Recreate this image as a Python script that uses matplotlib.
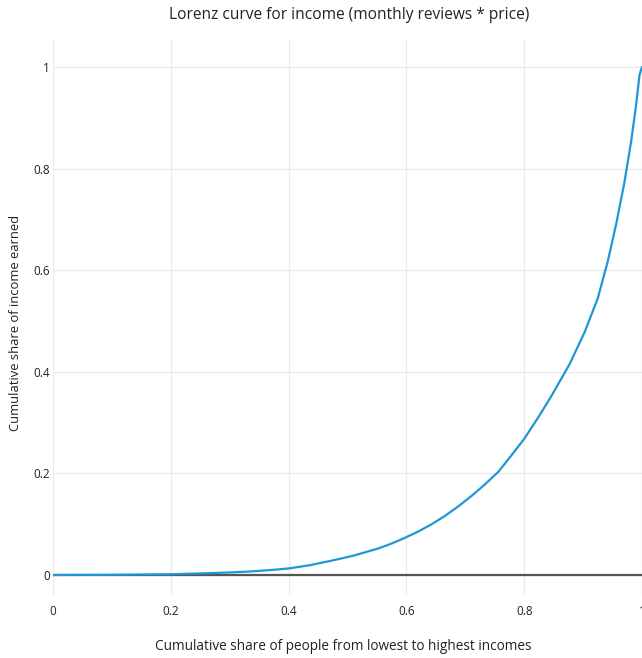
import numpy as np
import matplotlib
matplotlib.use('Agg')
import matplotlib.pyplot as plt

# Dati (curva di Lorenz)
share_people = [0.0, 0.1, 0.2, 0.249, 0.3, 0.333, 0.367, 0.401, 0.437, 0.474,
                0.51, 0.553, 0.575, 0.598, 0.62, 0.643, 0.665, 0.688, 0.711,
                0.733, 0.756, 0.7786, 0.7994, 0.8237, 0.846, 0.877, 0.9026,
                0.925, 0.942, 0.956, 0.970, 0.9815, 0.990, 0.9957, 1.0]
share_income = [0.0, 0.0004, 0.0015, 0.003, 0.005, 0.0068, 0.0095, 0.013, 0.0195,
                0.0285, 0.038, 0.0525, 0.062, 0.0735, 0.0855, 0.100, 0.116, 0.135,
                0.156, 0.178, 0.203, 0.236, 0.267, 0.310, 0.352, 0.415, 0.478,
                0.545, 0.618, 0.690, 0.772, 0.853, 0.925, 0.984, 1.0]

x_ticks = [0, 0.2, 0.4, 0.6, 0.8, 1]
x_ticklabels = ['0', '0.2', '0.4', '0.6', '0.8', '1']
y_ticks = [0, 0.2, 0.4, 0.6, 0.8, 1]
y_ticklabels = ['0', '0.2', '0.4', '0.6', '0.8', '1']

title = 'Lorenz curve for income (monthly reviews * price)'
xlabel = 'Cumulative share of people from lowest to highest incomes'
ylabel = 'Cumulative share of income earned'

plt.rcParams['font.family'] = ['Open Sans', 'DejaVu Sans']

W, H = 642, 658
fig = plt.figure(figsize=(W / 100, H / 100), dpi=100, facecolor='w')

# area del grafico in pixel
left, right, top, bottom = 53, 642, 40, 595
ax = fig.add_axes([left / W, 1 - bottom / H, (right - left) / W, (bottom - top) / H])

ax.plot(share_people, share_income, color='#1f97d6', linewidth=1.6, zorder=3,
        solid_joinstyle='round', solid_capstyle='round')
ax.axhline(0, color='#555555', linewidth=1.6, zorder=2)

ax.set_xlim(0, 589 / 591.25)
ax.set_ylim(-20 / 508, 1 + 27 / 508)

ax.set_xticks(x_ticks)
ax.set_xticklabels(x_ticklabels)
ax.set_yticks(y_ticks)
ax.set_yticklabels(y_ticklabels)
ax.grid(True, color='#ebebeb', linewidth=0.9, zorder=0)
ax.set_axisbelow(True)
for s in ax.spines.values():
    s.set_visible(False)
ax.tick_params(axis='both', length=0, labelsize=8.5, colors='#222222')
ax.tick_params(axis='x', pad=7.5)
ax.tick_params(axis='y', pad=2)

fig.text(349 / W, 1 - 15 / H, title, ha='center', va='center', fontsize=11.2, color='#222222')
fig.text(343 / W, 1 - 646 / H, xlabel, ha='center', va='center', fontsize=9.8, color='#222222')
fig.text(16 / W, 1 - 323 / H, ylabel, ha='center', va='center', rotation=90,
         fontsize=9.4, color='#222222')

fig.savefig('out.png', dpi=100, facecolor='w')
